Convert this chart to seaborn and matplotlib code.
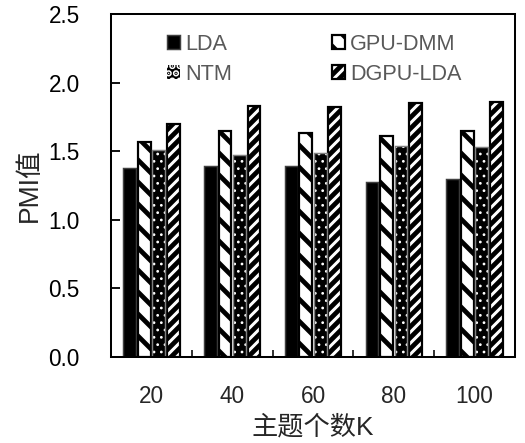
import matplotlib
matplotlib.use('Agg')
import matplotlib.pyplot as plt
from matplotlib.patches import Rectangle
import numpy as np
import pandas as pd
import seaborn as sns

topics = ['20', '40', '60', '80', '100']
models = ['LDA', 'GPU-DMM', 'NTM', 'DGPU-LDA']
lda = [1.38, 1.39, 1.39, 1.28, 1.30]
gpu_dmm = [1.57, 1.65, 1.63, 1.61, 1.65]
ntm = [1.51, 1.47, 1.49, 1.54, 1.53]
dgpu_lda = [1.70, 1.83, 1.82, 1.85, 1.86]
y_ticks = [0.0, 0.5, 1.0, 1.5, 2.0, 2.5]

df = pd.DataFrame({
    'K': topics * 4,
    'model': np.repeat(models, len(topics)),
    'PMI': lda + gpu_dmm + ntm + dgpu_lda,
})

sns.set_style('white')
plt.rcParams['font.family'] = ['Liberation Sans', 'Noto Sans CJK SC']
plt.rcParams['hatch.linewidth'] = 2.6

DPI = 132
fig, ax = plt.subplots(figsize=(525 / DPI, 443 / DPI), dpi=DPI)
fig.subplots_adjust(left=0.2114, right=0.981, bottom=0.194, top=0.968)

sns.barplot(data=df, x='K', y='PMI', hue='model', order=topics, hue_order=models,
            width=0.72, gap=0.12, palette=['black', 'white', 'black', 'white'],
            saturation=1, errorbar=None, legend=False, ax=ax)

styles = [
    dict(fc='black', ec='#404040', hatch=None, lw=0.8),
    dict(fc='white', ec='black', hatch='\\\\', lw=1.2),
    dict(fc='black', ec='white', hatch='...', lw=0),
    dict(fc='white', ec='black', hatch='////', lw=1.2),
]
for cont, st in zip(ax.containers, styles):
    for p in cont:
        p.set_facecolor(st['fc'])
        p.set_edgecolor(st['ec'])
        p.set_linewidth(st['lw'])
        if st['hatch']:
            p.set_hatch(st['hatch'])
        if st['hatch'] == '...':
            if hasattr(p, 'set_hatch_linewidth'):
                p.set_hatch_linewidth(0.7)
            ax.add_patch(Rectangle(p.get_xy(), p.get_width(), p.get_height(),
                                   fill=False, ec='#7f7f7f', lw=0.8))

handles = [cont.patches[0] for cont in ax.containers]
order = [0, 2, 1, 3]
leg = ax.legend([handles[i] for i in order], [models[i] for i in order], ncol=2,
                loc='upper left', bbox_to_anchor=(0.139, 0.943), frameon=False,
                handlelength=0.6, handleheight=0.6, handletextpad=0.25,
                columnspacing=4.6, labelspacing=0.42, borderpad=0, borderaxespad=0,
                fontsize=11.8)
for t in leg.get_texts():
    t.set_color('#595959')

ax.set_ylim(0, 2.5)
ax.set_yticks(y_ticks)
ax.set_yticklabels([f'{v:.1f}' for v in y_ticks])
ax.set_xlim(-0.5, len(topics) - 0.5)
ax.set_xticks(np.arange(len(topics) - 1) + 0.5, minor=True)
ax.tick_params(axis='y', direction='in', length=5, width=1, pad=17, labelsize=12.3,
               left=True, colors='black')
ax.tick_params(axis='x', which='major', length=0, pad=15, labelsize=12.3)
ax.tick_params(axis='x', which='minor', direction='in', length=4, width=1, bottom=True)

for s in ax.spines.values():
    s.set_visible(True)
    s.set_color('black')
    s.set_linewidth(1.1)

ax.set_xlabel('主题个数K', fontsize=14.3, labelpad=4, color='#262626')
ax.set_ylabel('PMI值', fontsize=14.5, labelpad=3, color='#262626')

fig.savefig('out.png', dpi=DPI)
